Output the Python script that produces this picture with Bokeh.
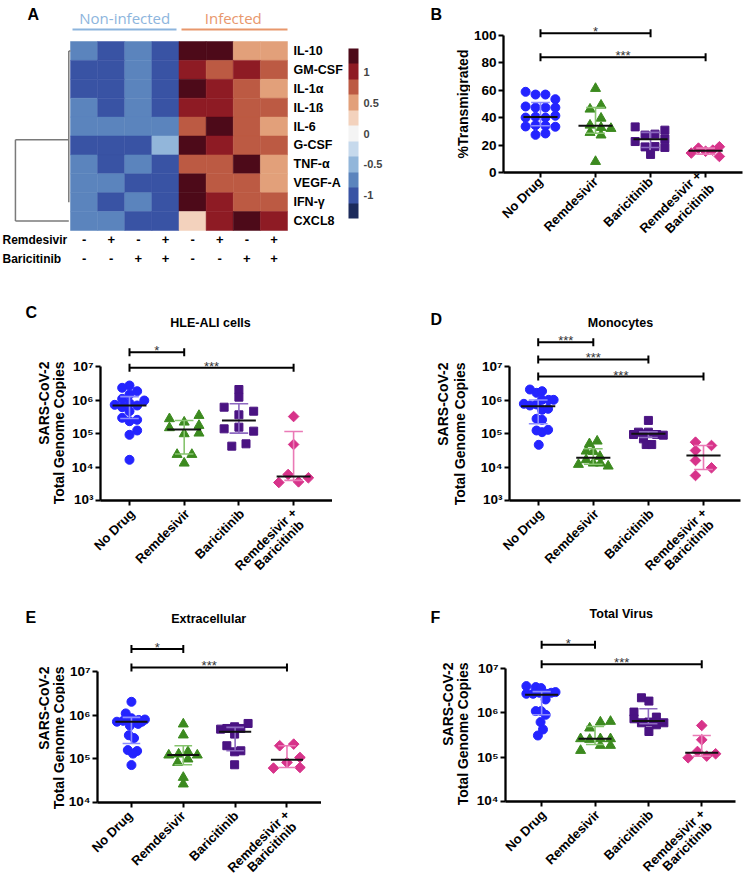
import math
from bokeh.plotting import figure
from bokeh.layouts import column, row
from bokeh.models import Range1d, FixedTicker, ColorBar, LinearColorMapper, ColumnDataSource
from bokeh.transform import linear_cmap
from bokeh.core.properties import value
from bokeh.embed import file_html
from bokeh.resources import INLINE

FONT = "Liberation Sans"

# ---------------- Panel A data (heatmap, z-scores) ----------------
cytokines = ["IL-10", "GM-CSF", "IL-1\u03b1", "IL-1\u00df", "IL-6", "G-CSF", "TNF-\u03b1", "VEGF-A", "IFN-\u03b3", "CXCL8"]
il10  = [-0.75, -1.0, -0.75, -1.0, 1.25, 1.25, 0.5, 0.5]
gmcsf = [-1.0, -1.0, -0.75, -1.0, 1.0, 0.75, 1.0, 0.75]
il1a  = [-1.0, -1.0, -0.75, -1.0, 1.25, 1.0, 0.75, 0.5]
il1b  = [-0.75, -1.0, -0.75, -1.0, 1.0, 1.0, 0.75, 0.75]
il6   = [-0.75, -0.75, -0.75, -0.75, 0.75, 1.25, 0.75, 0.5]
gcsf  = [-1.0, -1.0, -1.0, -0.5, 1.25, 1.0, 0.75, 0.75]
tnfa  = [-0.75, -1.0, -0.75, -1.0, 0.75, 0.75, 1.25, 0.5]
vegfa = [-0.75, -0.75, -1.0, -1.0, 1.25, 0.75, 0.75, 0.5]
ifng  = [-0.75, -1.0, -0.75, -1.0, 1.25, 1.0, 0.75, 0.75]
cxcl8 = [-0.75, -0.75, -1.0, -1.0, 0.25, 1.0, 1.25, 1.0]
heat_rows = [il10, gmcsf, il1a, il1b, il6, gcsf, tnfa, vegfa, ifng, cxcl8]
remdesivir_signs = ["-", "+", "-", "+", "-", "+", "-", "+"]
baricitinib_signs = ["-", "-", "+", "+", "-", "-", "+", "+"]
heat_palette = ["#1c2b5c", "#3953a4", "#5b84bd", "#92b6da", "#c6d9ec", "#f4f4f4",
                "#f3d2bd", "#e2a07a", "#bc5a43", "#8e1b24", "#4d0a19"]
heat_low, heat_high = -1.375, 1.375
cbar_ticks = [-1, -0.5, 0, 0.5, 1]
cbar_labels = ["-1", "-0.5", "0", "0.5", "1"]

# ---------------- shared categories ----------------
groups = ["No Drug", "Remdesivir", "Baricitinib", "Remdesivir +\nBaricitinib"]
group_lines = [["No Drug"], ["Remdesivir"], ["Baricitinib"], ["Remdesivir +", "Baricitinib"]]
COLORS = ["#2424ff", "#3c8a1f", "#4a1382", "#d7338a"]
ERR_COLORS = ["#8c8cff", "#86c46e", "#8d69c0", "#ea7ab6"]
MARKERS = ["circle", "triangle", "square", "square"]
ANGLES = [0, 0, 0, math.pi / 4]
SIZES = [9, 10, 8, 7.5]

# ---------------- Panel B (% transmigrated) ----------------
b_nd_dx = [-0.27, -0.09, 0.09, 0.27, -0.27, -0.09, 0.09, 0.27, -0.27, -0.09, 0.09, 0.27, -0.27, -0.09, 0.09, 0.27, -0.09, 0.09]
b_nd = [58.9, 56.9, 56.9, 53.5, 48.2, 47.4, 47.4, 47.4, 40.1, 40.6, 40.1, 41.4, 33.6, 34.5, 34.1, 33.4, 27.5, 28.5]
b_rem_dx = [0, 0.1, -0.1, 0.1, -0.1, 0.1, 0.28, -0.1, 0.1, 0]
b_rem = [61.3, 49.1, 46.2, 39.6, 34.5, 32.8, 32.1, 29.2, 27.3, 8.0]
b_bar_dx = [-0.28, 0.26, -0.1, 0.08, -0.28, 0.26, -0.1, 0.08, 0.26, 0.0]
b_bar = [33.3, 30.9, 27.3, 28.0, 22.6, 24.5, 18.7, 18.9, 18.3, 13.2]
b_rb_dx = [-0.26, -0.13, 0, 0.13, 0.25, 0.25]
b_rb = [14.2, 17.8, 15.5, 16.3, 18.8, 11.7]
b_stats = [(40.6, 34.1, 51.1), (34.1, 28.7, 47.4), (24.2, 18.3, 29.3), (15.8, 13.4, 17.8)]
b_sig = [(0, 2, 101.7, "*"), (0, 3, 84.2, "***")]
b_yticks = [0, 20, 40, 60, 80, 100]

# ---------------- Panel C (HLE-ALI cells, log10 copies) ----------------
c_nd_dx = [0, -0.134, 0.14, 0, -0.134, 0.27, -0.27, -0.134, 0, 0.14, 0, -0.134, 0, 0.14, 0.14, 0, 0]
c_nd = [6.433, 6.364, 6.263, 6.164, 6.035, 5.985, 5.856, 5.785, 5.905, 5.836, 5.666, 5.468, 5.367, 5.408, 5.090, 4.961, 4.215]
c_rem_dx = [-0.27, 0.27, 0, -0.27, 0.27, 0.27, 0, -0.13, 0.14, 0]
c_rem = [5.439, 5.537, 5.338, 5.17, 5.239, 5.01, 4.99, 4.373, 4.373, 4.114]
c_bar_dx = [0, 0, -0.27, 0.27, 0, -0.27, 0, 0.27, 0.13, -0.13]
c_bar = [6.313, 6.085, 5.785, 5.666, 5.557, 5.139, 5.189, 5.07, 4.692, 4.622]
c_rb_dx = [0, 0, -0.1, 0.27, -0.27, 0.09]
c_rb = [5.507, 4.672, 3.776, 3.677, 3.537, 3.557]
c_stats = [(5.836, 5.45, 6.10), (5.12, 4.39, 5.39), (5.388, 5.01, 5.886), (3.716, 3.6, 5.06)]
c_sig = [(0, 1, 7.427, "*"), (0, 3, 6.961, "***")]

# ---------------- Panel D (Monocytes) ----------------
d_nd_dx = [-0.15, -0.03, 0.07, 0.07, 0.19, 0.28, -0.26, -0.15, -0.03, 0.07, 0.18, -0.03, 0.07, -0.03, 0.07, 0.18, 0.01]
d_nd = [6.313, 6.214, 6.263, 6.005, 6.005, 6.005, 5.886, 5.836, 5.866, 5.707, 5.737, 5.439, 5.408, 5.09, 5.04, 5.11, 4.662]
d_rem_dx = [-0.07, 0.07, -0.13, 0, 0.12, -0.13, -0.27, 0, 0.13, 0.27]
d_rem = [4.692, 4.771, 4.472, 4.463, 4.313, 4.214, 4.075, 4.114, 4.114, 4.025]
d_bar_dx = [0, -0.18, -0.27, -0.09, 0, 0.15, 0.27, -0.09, -0.04, 0.06]
d_bar = [5.39, 5.04, 4.97, 4.99, 5.04, 4.97, 4.95, 4.84, 4.67, 4.67]
d_rb_dx = [-0.145, 0.145, -0.145, -0.145, 0.145, -0.145]
d_rb = [4.741, 4.642, 4.493, 4.194, 3.976, 3.746]
d_stats = [(5.816, 5.29, 6.0), (4.274, 4.08, 4.543), (4.99, 4.88, 5.05), (4.343, 3.925, 4.642)]
d_sig = [(0, 1, 7.725, "***"), (0, 2, 7.209, "***"), (0, 3, 6.701, "***")]

# ---------------- Panel E (Extracellular) ----------------
e_nd_dx = [0, -0.11, -0.28, -0.16, 0, 0.14, 0.26, 0.13, -0.03, -0.05, 0.05, -0.07, 0.11, 0.03, 0, 0.2]
e_nd = [6.306, 6.04, 5.85, 5.87, 5.93, 5.89, 5.9, 5.8, 5.76, 5.54, 5.475, 5.2, 5.18, 5.12, 4.857, 5.85]
e_rem_dx = [0, 0, -0.28, -0.09, 0.09, 0.27, 0.09, -0.11, 0, 0]
e_rem = [5.796, 5.544, 5.085, 5.108, 5.161, 5.085, 4.994, 4.916, 4.573, 4.422]
e_bar_dx = [0.25, -0.28, -0.16, -0.01, 0.11, -0.01, -0.16, -0.01, 0.11, -0.01]
e_bar = [5.81, 5.68, 5.695, 5.734, 5.695, 5.566, 5.3, 5.161, 5.184, 4.864]
e_rb_dx = [-0.14, 0.13, 0.25, 0, -0.26, 0.25]
e_rb = [5.3, 5.337, 5.031, 4.916, 4.788, 4.802]
e_stats = [(5.848, 5.35, 5.95), (5.085, 4.864, 5.3), (5.62, 5.184, 5.72), (4.978, 4.8, 5.3)]
e_sig = [(0, 1, 7.513, "*"), (0, 3, 7.092, "***")]

# ---------------- Panel F (Total virus) ----------------
f_nd_dx = [-0.286, -0.11, -0.01, -0.286, -0.16, -0.04, 0.087, 0.18, 0.26, 0.075, -0.11, -0.01, 0.075, -0.02, 0.025, -0.07]
f_nd = [6.595, 6.573, 6.55, 6.422, 6.422, 6.445, 6.422, 6.445, 6.46, 6.294, 6.033, 6.033, 5.95, 5.786, 5.62, 5.484]
f_rem_dx = [0.1, 0.29, -0.1, -0.27, -0.1, 0.1, 0.29, 0.1, 0.29, -0.27]
f_rem = [5.786, 5.8, 5.65, 5.41, 5.395, 5.41, 5.41, 5.26, 5.26, 5.147]
f_bar_dx = [-0.13, 0.01, -0.27, -0.27, -0.13, 0.01, 0.15, 0.15, 0.29, 0.01]
f_bar = [6.332, 6.258, 6.011, 5.86, 5.77, 5.786, 5.898, 5.725, 5.77, 5.574]
f_rb_dx = [0, 0, -0.08, -0.255, 0.093, 0.26]
f_rb = [5.71, 5.388, 5.125, 4.983, 5.021, 5.073]
f_stats = [(6.4, 5.95, 6.47), (5.41, 5.282, 5.687), (5.808, 5.75, 6.085), (5.095, 5.02, 5.484)]
f_sig = [(0, 1, 7.524, "*"), (0, 3, 7.085, "***")]

SUP = {3: "\u00b3", 4: "\u2074", 5: "\u2075", 6: "\u2076", 7: "\u2077"}
YL1, YL2 = "SARS-CoV-2", "Total Genome Copies"
XLAB_SIZE = "13px"


def base_fig(w, h, xr, yr, borders=(0, 0, 0, 0), log=False, axes=True):
    l, r, t, b = borders
    kw = dict(width=w, height=h, x_range=xr, y_range=yr, title=None,
              min_border_left=l, min_border_right=r, min_border_top=t, min_border_bottom=b,
              output_backend="svg", toolbar_location=None)
    if log:
        kw["y_axis_type"] = "log"
    if not axes:
        kw["x_axis_location"] = None
        kw["y_axis_location"] = None
    p = figure(**kw)
    if "frame_align" in p.properties():
        p.frame_align = False
    p.grid.visible = False
    p.outline_line_color = None
    p.background_fill_color = "white"
    p.border_fill_color = "white"
    return p


def strip(w, h, letter, letter_xy, ylines):
    """Whole-frame figure holding a panel letter and the y-axis title (pixel space)."""
    p = base_fig(w, h, Range1d(0, w), Range1d(0, h), axes=False)
    lx, ly = letter_xy
    p.text(x=[lx], y=[h - ly], text=[letter], text_align="left", text_baseline="top",
           text_font=value(FONT), text_font_style="bold", text_font_size="16px", text_color="black")
    for (txt, x, top) in ylines:
        p.text(x=[x], y=[h - top], text=[txt], angle=math.pi / 2, text_align="right",
               text_baseline="middle", text_font=value(FONT), text_font_style="bold",
               text_font_size="14px", text_color="black")
    return p


def label_strip(ox, top, w, h, cat0, sp, axis_y):
    """Whole-frame figure under a panel holding its rotated category labels."""
    p = base_fig(w, h, Range1d(0, w), Range1d(0, h), axes=False)
    xs, ys, ts = [], [], []
    for g, lines in enumerate(group_lines):
        tx = cat0 + g * sp
        if len(lines) == 1:
            pts = [(tx + 3, axis_y + 11)]
        else:
            pts = [(tx + 1, axis_y + 10), (tx + 8, axis_y + 22)]
        for (px, py), t in zip(pts, lines):
            xs.append(px - ox)
            ys.append(h - (py - top))
            ts.append(t)
    p.text(x=xs, y=ys, text=ts, angle=math.pi / 4, text_align="right", text_baseline="middle",
           text_font=value(FONT), text_font_style="bold", text_font_size=XLAB_SIZE, text_color="black")
    return p


def scatter_panel(geo, log, yticks, ytick_labels, ybounds, dxs, vals, stats, sigs,
                  title=None, title_xy=None, axis_labels=True):
    ox, oy, w, h, fl, fr, ft, fb, cat0, sp, ref_py, ref_val, ppu = geo
    X = lambda px: (px - cat0) / sp
    V = lambda py: ref_val + (ref_py - py) / ppu
    T = (lambda v: 10.0 ** v) if log else (lambda v: v)
    p = base_fig(w, h, Range1d(X(fl), X(fr)), Range1d(T(V(fb)), T(V(ft))),
                 borders=(fl - ox, ox + w - fr, ft - oy, oy + h - fb), log=log)
    for g in range(4):
        p.scatter([g + d for d in dxs[g]], [T(v) for v in vals[g]], marker=MARKERS[g],
                  size=SIZES[g], angle=ANGLES[g], fill_color=COLORS[g], line_color=COLORS[g])
    for g in range(4):
        med, q1, q3 = stats[g]
        p.segment(x0=[g], y0=[T(q1)], x1=[g], y1=[T(q3)], line_color=ERR_COLORS[g], line_width=1.6)
        p.segment(x0=[g - 0.17, g - 0.17], y0=[T(q1), T(q3)], x1=[g + 0.17, g + 0.17], y1=[T(q1), T(q3)],
                  line_color=ERR_COLORS[g], line_width=1.6)
        p.segment(x0=[g - 0.31], y0=[T(med)], x1=[g + 0.31], y1=[T(med)], line_color="#111111", line_width=2)
    for (i, j, lev, txt) in sigs:
        p.segment(x0=[i], y0=[T(lev)], x1=[j], y1=[T(lev)], line_color="black", line_width=2)
        p.segment(x0=[i, j], y0=[T(lev - 4 / ppu)] * 2, x1=[i, j], y1=[T(lev + 4 / ppu)] * 2,
                  line_color="black", line_width=2)
        p.text(x=[(i + j) / 2], y=[T(lev + 1.5 / ppu)], text=[txt], text_align="center",
               text_baseline="alphabetic", text_font=value(FONT), text_font_size="13px",
               text_color="#333333")
    if title:
        tx, ty = title_xy
        p.text(x=[X(tx)], y=[T(V(ty))], text=[title], text_align="center", text_baseline="middle",
               text_font=value(FONT), text_font_style="bold", text_font_size="12.5px", text_color="black")
    xa = p.xaxis[0]
    xa.ticker = FixedTicker(ticks=[0, 1, 2, 3])
    if axis_labels:
        xa.major_label_overrides = {i: g for i, g in enumerate(groups)}
        xa.major_label_orientation = math.pi / 4
    else:
        xa.major_label_overrides = {i: "" for i in range(4)}
    ya = p.yaxis[0]
    ya.ticker = FixedTicker(ticks=yticks)
    ya.major_label_overrides = dict(zip(yticks, ytick_labels))
    ya.bounds = ybounds
    for ax in (xa, ya):
        ax.axis_line_width = 2.3
        ax.major_tick_line_width = 2
        ax.major_tick_in = 0
        ax.major_tick_out = 5
        ax.minor_tick_line_color = None
        ax.major_label_text_font = FONT
        ax.major_label_text_font_style = "bold"
        ax.major_label_text_color = "black"
        ax.major_label_standoff = 2
    xa.major_label_text_font_size = XLAB_SIZE if axis_labels else "1px"
    xa.major_label_standoff = 2 if axis_labels else 0
    ya.major_label_text_font_size = "13.5px"
    return p


# ---------------- Panel A figure (also hosts letter B and B's y title) ----------------
CW, RH, HL, HT = 27.125, 18.9, 70, 41
AX = lambda px: (px - HL) / CW
AY = lambda py: 10 - (py - HT) / RH
WA, HA = 470, 285
pA = base_fig(WA, HA, Range1d(AX(0), AX(WA)), Range1d(AY(HA), AY(0)), axes=False)
hx, hy, hv = [], [], []
for j, vals in enumerate(heat_rows):
    for i, v in enumerate(vals):
        hx.append(i + 0.5)
        hy.append(9.5 - j)
        hv.append(v)
src = ColumnDataSource(dict(x=hx, y=hy, v=hv))
cmap = linear_cmap("v", heat_palette, heat_low, heat_high)
pA.rect(x="x", y="y", width=1, height=1, source=src, fill_color=cmap, line_color=cmap, line_width=0.5)
# dendrogram (cluster of rows 0-8 joined with CXCL8)
dx0 = [-0.063, -0.063, -2.03, -2.03, -2.03]
dy0 = [1.5, 9.5, 4.8, 0.5, 0.5]
dx1 = [-0.063, 0.0, -0.063, -2.03, -0.063]
dy1 = [9.5, 9.5, 4.8, 4.8, 0.5]
pA.segment(x0=dx0, y0=dy0, x1=dx1, y1=dy1, line_color="#7a7a7a", line_width=1.5)
pA.text(x=[AX(293)] * len(cytokines), y=[9.5 - j for j in range(len(cytokines))], text=cytokines,
        text_align="left", text_baseline="middle", text_font=value(FONT), text_font_style="bold",
        text_font_size="12.5px", text_color="black")
for signs, py, name in ((remdesivir_signs, 239, "Remdesivir"), (baricitinib_signs, 258, "Baricitinib")):
    pA.text(x=[i + 0.5 for i in range(8)], y=[AY(py)] * 8, text=signs, text_align="center",
            text_baseline="middle", text_font=value(FONT), text_font_style="bold",
            text_font_size="13px", text_color="black")
    pA.text(x=[AX(2)], y=[AY(py)], text=[name], text_align="left", text_baseline="middle",
            text_font=value(FONT), text_font_style="bold", text_font_size="12px", text_color="black")
pA.text(x=[2, 6], y=[AY(17)] * 2, text=["Non-infected", "Infected"], text_align="center",
        text_baseline="middle", text_font=value("Open Sans"), text_font_size="15px",
        text_color=["#8db5dd", "#e8976c"])
pA.segment(x0=[AX(72), AX(181)], y0=[AY(29)] * 2, x1=[AX(176), AX(287)], y1=[AY(29)] * 2,
           line_color=["#8db5dd", "#e8976c"], line_width=2)
pA.text(x=[AX(27), AX(430)], y=[AY(5)] * 2, text=["A", "B"], text_align="left", text_baseline="top",
        text_font=value(FONT), text_font_style="bold", text_font_size="16px", text_color="black")
pA.text(x=[AX(462)], y=[AY(103.5)], text=["%Transmigrated"], angle=math.pi / 2, text_align="center",
        text_baseline="middle", text_font=value(FONT), text_font_style="bold",
        text_font_size="14px", text_color="black")
cb = ColorBar(color_mapper=LinearColorMapper(palette=heat_palette, low=heat_low, high=heat_high),
              ticker=FixedTicker(ticks=cbar_ticks),
              major_label_overrides=dict(zip(cbar_ticks, cbar_labels)),
              location=(348, HA - 218), width=10, height=170, padding=0,
              major_tick_line_color=None, minor_tick_line_color=None, bar_line_color=None,
              border_line_color=None, background_fill_alpha=0, label_standoff=5,
              major_label_text_font=FONT, major_label_text_font_style="bold",
              major_label_text_font_size="11px")
pA.add_layout(cb)

# ---------------- scatter panels ----------------
log_ticks7 = [10 ** k for k in range(3, 8)]
log_ticks4 = [10 ** k for k in range(4, 8)]
lab7 = ["10" + SUP[k] for k in range(3, 8)]
lab4 = ["10" + SUP[k] for k in range(4, 8)]
TB = 6  # bottom border holding the x ticks of panels C-F

pB = scatter_panel((470, 0, 274, 285, 501, 742, 0, 172, 538.3, 55.5, 172, 0, 1.37), False,
                   b_yticks, [str(t) for t in b_yticks], (0, 100),
                   [b_nd_dx, b_rem_dx, b_bar_dx, b_rb_dx], [b_nd, b_rem, b_bar, b_rb], b_stats, b_sig)

geoC = (66, 285, 266, 500 - 285 + TB, 100, 332, 285, 500, 129, 54.7, 500, 3, 33.5)
geoD = (475, 285, 269, 500 - 285 + TB, 509, 740, 285, 500, 537.7, 55.1, 500, 3, 33.5)
geoE = (65, 580, 256, 802 - 580 + TB, 92, 321, 580, 802, 126.7, 53, 802, 4, 43.67)
geoF = (473, 580, 271, 801 - 580 + TB, 504, 735, 580, 801, 540.3, 53.6, 801, 4, 44.47)

pC = scatter_panel(geoC, True, log_ticks7, lab7, (1e3, 1e7),
                   [c_nd_dx, c_rem_dx, c_bar_dx, c_rb_dx], [c_nd, c_rem, c_bar, c_rb], c_stats, c_sig,
                   "HLE-ALI cells", (210, 322), axis_labels=False)
pD = scatter_panel(geoD, True, log_ticks7, lab7, (1e3, 1e7),
                   [d_nd_dx, d_rem_dx, d_bar_dx, d_rb_dx], [d_nd, d_rem, d_bar, d_rb], d_stats, d_sig,
                   "Monocytes", (620, 322), axis_labels=False)
pE = scatter_panel(geoE, True, log_ticks4, lab4, (1e4, 1e7),
                   [e_nd_dx, e_rem_dx, e_bar_dx, e_rb_dx], [e_nd, e_rem, e_bar, e_rb], e_stats, e_sig,
                   "Extracellular", (205.7, 618), axis_labels=False)
pF = scatter_panel(geoF, True, log_ticks4, lab4, (1e4, 1e7),
                   [f_nd_dx, f_rem_dx, f_bar_dx, f_rb_dx], [f_nd, f_rem, f_bar, f_rb], f_stats, f_sig,
                   "Total Virus", (620.3, 613.5), axis_labels=False)


def labels_for(geo, row_bottom):
    ox, oy, w, h, fl, fr, ft, fb, cat0, sp = geo[:10]
    top = oy + h
    return label_strip(ox, top, w, row_bottom - top, cat0, sp, fb)


lC, lD = labels_for(geoC, 580), labels_for(geoD, 580)
lE, lF = labels_for(geoE, 876), labels_for(geoF, 876)

sC = strip(66, 295, "C", (25, 18), [(YL1, 43, 76), (YL2, 58, 76)])
sD = strip(143, 295, "D", (98, 25), [(YL1, 110, 77), (YL2, 127, 77)])
sE = strip(65, 296, "E", (25, 28), [(YL1, 43, 86), (YL2, 58, 86)])
sF = strip(152, 296, "F", (109, 28), [(YL1, 126, 82), (YL2, 141, 82)])

layout = column(row(pA, pB),
                row(sC, column(pC, lC), sD, column(pD, lD)),
                row(sE, column(pE, lE), sF, column(pF, lF)))
open("out.html", "w").write(file_html(layout, INLINE, title="Figure"))
